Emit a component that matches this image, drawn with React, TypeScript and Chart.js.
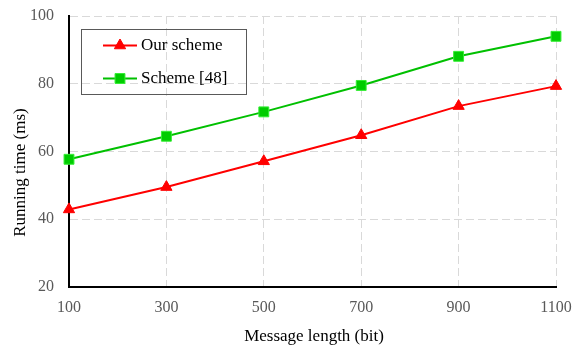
import React, { useEffect, useRef } from "react";
import { Chart, registerables } from "chart.js";

Chart.register(...registerables);

const categories = ["100", "300", "500", "700", "900", "1100"];
const ourScheme = [42.9, 49.5, 57.1, 64.8, 73.4, 79.3];
const scheme48 = [57.7, 64.5, 71.7, 79.5, 88.1, 94.0];
const seriesNames = ["Our scheme", "Scheme [48]"];
const yTitle = "Running time (ms)";
const xTitle = "Message length (bit)";

const FONT = "'Liberation Serif', 'Times New Roman', serif";

const legendPlugin = {
  id: "boxLegend",
  afterDraw(chart: any) {
    const ctx = chart.ctx;
    const x0 = 81, y0 = 29, w = 165, h = 65;
    ctx.save();
    ctx.strokeStyle = "#595959";
    ctx.lineWidth = 1;
    ctx.strokeRect(x0 + 0.5, y0 + 0.5, w, h);
    const rows = [45.5, 78.5];
    chart.data.datasets.forEach((ds: any, i: number) => {
      const y = rows[i];
      ctx.strokeStyle = ds.borderColor;
      ctx.lineWidth = 2;
      ctx.beginPath();
      ctx.moveTo(103, y);
      ctx.lineTo(137, y);
      ctx.stroke();
      ctx.fillStyle = ds.pointBackgroundColor;
      ctx.strokeStyle = ds.pointBorderColor;
      ctx.lineWidth = 1;
      ctx.beginPath();
      if (ds.pointStyle === "triangle") {
        const r = ds.pointRadius;
        ctx.moveTo(120, y - r);
        ctx.lineTo(120 + r * Math.sin(Math.PI / 3), y + r / 2);
        ctx.lineTo(120 - r * Math.sin(Math.PI / 3), y + r / 2);
        ctx.closePath();
      } else {
        const s = ds.pointRadius * Math.SQRT1_2;
        ctx.rect(120 - s, y - s, 2 * s, 2 * s);
      }
      ctx.fill();
      ctx.stroke();
      ctx.fillStyle = "#000";
      ctx.font = `17px ${FONT}`;
      ctx.textBaseline = "middle";
      ctx.textAlign = "left";
      ctx.fillText(ds.label, 141, y);
    });
    ctx.restore();
  },
};

const titlePlugin = {
  id: "axisTitles",
  afterDraw(chart: any) {
    const ctx = chart.ctx;
    ctx.save();
    ctx.fillStyle = "#000";
    ctx.font = `17px ${FONT}`;
    ctx.textAlign = "center";
    ctx.textBaseline = "alphabetic";
    ctx.fillText(xTitle, 314, 341);
    ctx.translate(24.5, 172.5);
    ctx.rotate(-Math.PI / 2);
    ctx.fillText(yTitle, 0, 0);
    ctx.restore();
  },
};

export default function App() {
  const ref = useRef<HTMLCanvasElement>(null);
  useEffect(() => {
    if (!ref.current) return;
    const chart = new Chart(ref.current, {
      type: "line",
      data: {
        labels: categories,
        datasets: [
          {
            label: seriesNames[0],
            data: ourScheme,
            borderColor: "#ff0000",
            borderWidth: 2,
            pointStyle: "triangle",
            pointRadius: 6.5,
            pointBackgroundColor: "#ff0000",
            pointBorderColor: "#ff0000",
            pointBorderWidth: 1,
            tension: 0,
          },
          {
            label: seriesNames[1],
            data: scheme48,
            borderColor: "#00c000",
            borderWidth: 2,
            pointStyle: "rect",
            pointRadius: 7,
            pointBackgroundColor: "#00cc00",
            pointBorderColor: "#33ee33",
            pointBorderWidth: 1,
            tension: 0,
          },
        ],
      } as any,
      options: {
        animation: false,
        responsive: false,
        maintainAspectRatio: false,
        layout: { padding: { top: 16, right: 18, left: 0, bottom: 0 } },
        plugins: { legend: { display: false }, tooltip: { enabled: false } },
        scales: {
          x: {
            type: "category",
            offset: false,
            grid: { color: "#d9d9d9", lineWidth: 1, drawTicks: false, offset: false },
            border: { display: true, color: "#000", width: 2, dash: [8, 4] },
            ticks: {
              color: "#595959",
              font: { family: FONT, size: 16 },
              padding: 11,
              maxRotation: 0,
              autoSkip: false,
            },
            title: { display: false, text: xTitle },
            afterFit(scale: any) {
              scale.height = 60;
              scale.paddingLeft = 0;
              scale.paddingRight = 0;
            },
          },
          y: {
            min: 20,
            max: 100,
            grid: { color: "#d9d9d9", lineWidth: 1, drawTicks: false },
            border: { display: true, color: "#000", width: 2, dash: [8, 4] },
            ticks: {
              stepSize: 20,
              color: "#595959",
              font: { family: FONT, size: 16 },
              padding: 15,
            },
            title: { display: false, text: yTitle },
            afterFit(scale: any) {
              scale.width = 69;
              scale.paddingTop = 0;
              scale.paddingBottom = 0;
            },
          },
        },
      } as any,
      plugins: [legendPlugin, titlePlugin],
    });
    return () => chart.destroy();
  }, []);
  return (
    <div style={{ position: "absolute", left: 0, top: 0, width: 574, height: 347, background: "#fff" }}>
      <canvas ref={ref} width={574} height={347} style={{ display: "block", width: 574, height: 347 }} />
    </div>
  );
}
